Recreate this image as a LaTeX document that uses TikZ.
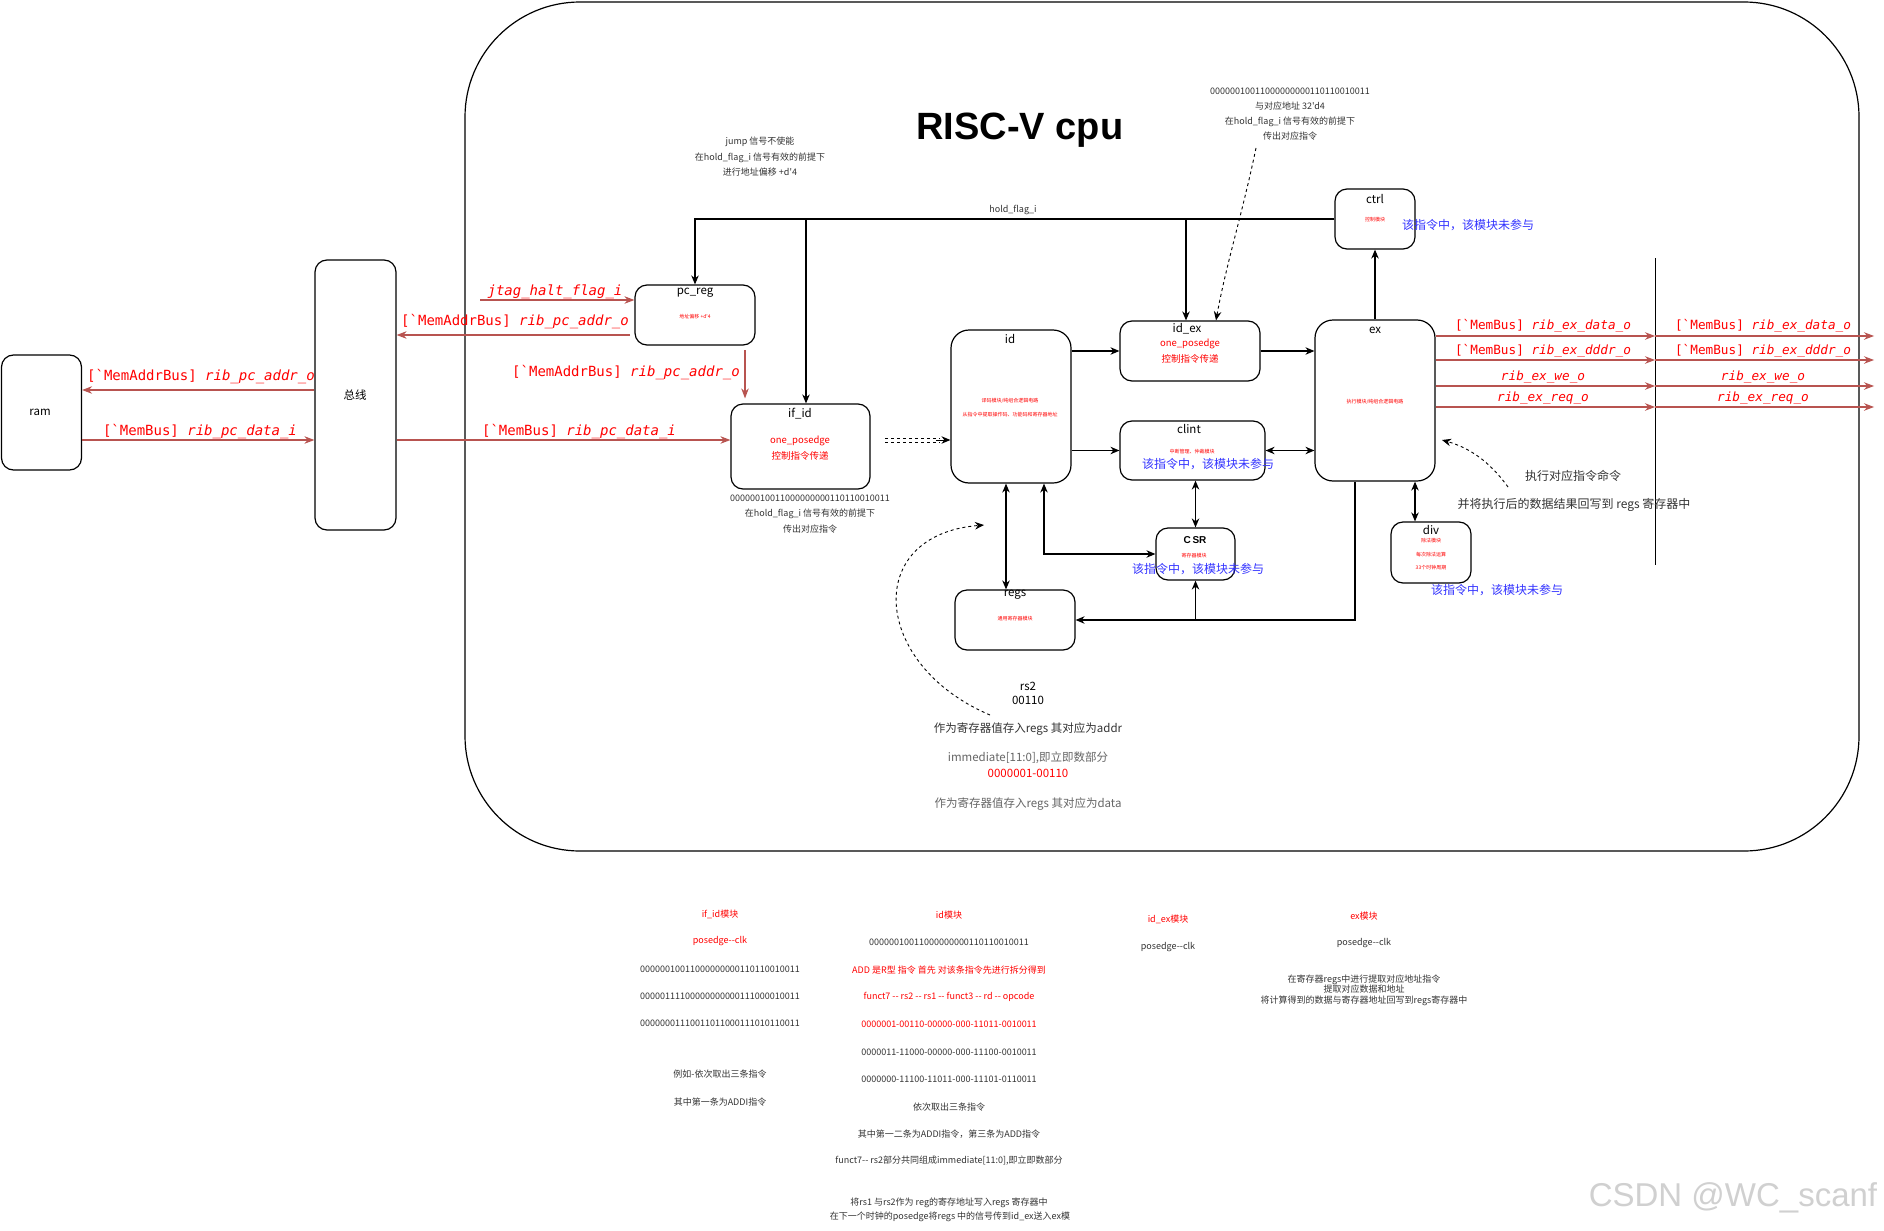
\documentclass[tikz,border=0pt]{standalone}
\usepackage{fontspec}
\usetikzlibrary{arrows.meta}
\newfontfamily\zh{Noto Sans CJK SC}
\newfontfamily\monof{DejaVu Sans Mono}
\newfontfamily\libf{Liberation Sans}
\definecolor{redline}{HTML}{B85450}
\definecolor{redtxt}{HTML}{FF0000}
\definecolor{bluetxt}{HTML}{3333FF}
\definecolor{darktxt}{HTML}{333333}
\definecolor{graytxt}{HTML}{666666}
\definecolor{wmark}{HTML}{D0D0D0}
\newcommand\fsz[2]{\fontsize{#1}{#2}\selectfont}
\newcommand\bq{\symbol{96}}
\begin{document}
\begin{tikzpicture}[x=1pt,y=-1pt,
  box/.style={draw=black,line width=1.2pt,rounded corners=12pt,inner sep=0pt},
  bigbox/.style={draw=black,line width=1.2pt,rounded corners=18pt,inner sep=0pt},
  tip/.style={-{Stealth[length=9pt,width=7.5pt]}},
  arr/.style={line width=1.2pt,-{Stealth[length=9pt,width=7.5pt]}},
  darr/.style={line width=1.2pt,{Stealth[length=9pt,width=7.5pt]}-{Stealth[length=9pt,width=7.5pt]}},
  rarr/.style={line width=1.1pt,draw=redline,-{Stealth[length=10pt,width=7.5pt]}},
  ttl/.style={inner sep=0pt,font=\zh\fsz{11.5}{13},text=black},
  sm/.style={inner sep=0pt,font=\zh\fsz{9}{15.5},text=darktxt,align=center},
  tiny/.style={inner sep=0pt,font=\zh\fsz{5}{6},text=redtxt},
  redm/.style={inner sep=0pt,font=\zh\fsz{9.5}{11},text=redtxt},
  blu/.style={inner sep=0pt,font=\zh\fsz{12}{14},text=bluetxt},
  sig/.style={inner sep=0pt,font=\monof\fsz{14}{16},text=redtxt},
  sigs/.style={inner sep=0pt,font=\monof\fsz{12.7}{15},text=redtxt},
  mid/.style={inner sep=0pt,font=\zh\fsz{11.5}{13}},
  bot/.style={inner sep=0pt,font=\zh\fsz{9}{11},text=darktxt},
  botr/.style={bot,text=redtxt},
  dsh/.style={dashed,line width=0.9pt,-{Stealth[length=9pt,width=7.5pt]}}
]
\useasboundingbox (0,0) rectangle (1884,1231);
\fill[white] (0,0) rectangle (1884,1231);

% container
\node[draw=black,line width=1.2pt,rounded corners=115pt,minimum width=1394,minimum height=849,inner sep=0pt] (cpu) at (1162,426.5) {};
\node[font=\libf\bfseries\fsz{38}{44},inner sep=0pt] (title) at (1020,130) {RISC-V cpu};

% boxes
\node[box,minimum width=80,minimum height=115] (ram) at (41.5,412.5) {};
\node[box,minimum width=81,minimum height=270] (bus) at (355.5,395) {};
\node[box,minimum width=120,minimum height=60] (pcreg) at (695,315) {};
\node[box,minimum width=139,minimum height=85] (ifid) at (800.5,446.5) {};
\node[bigbox,minimum width=120,minimum height=153] (id) at (1011,406.5) {};
\node[box,minimum width=140,minimum height=60] (idex) at (1190,351) {};
\node[bigbox,minimum width=120,minimum height=161] (ex) at (1375,400.5) {};
\node[box,minimum width=80,minimum height=60] (ctrl) at (1375,219) {};
\node[box,minimum width=145,minimum height=59] (clint) at (1192.5,450.5) {};
\node[box,minimum width=79,minimum height=52] (csr) at (1195.5,554) {};
\node[box,minimum width=120,minimum height=60] (regs) at (1015,620) {};
\node[box,minimum width=80,minimum height=61] (div) at (1431,552.5) {};

% box titles
\node[ttl] (tram) at (40,412) {ram};
\node[ttl] (tbus) at (355,395) {总线};
\node[ttl] (tpc) at (695,293) {pc\_reg};
\node[ttl] (tifid) at (800,414) {if\_id};
\node[ttl] (tid) at (1010,339) {id};
\node[ttl] (tidex) at (1187,329) {id\_ex};
\node[ttl] (tex) at (1375,330) {ex};
\node[ttl] (tctrl) at (1375,199) {ctrl};
\node[ttl] (tclint) at (1189,429) {clint};
\node[inner sep=0pt,font=\libf\bfseries\fsz{10}{12}] (tcsr) at (1195,540) {C\,SR};
\node[ttl] (tregs) at (1015,595) {regs};
\node[ttl] (tdiv) at (1431,530) {div};

% small red texts inside boxes
\node[tiny] (spc) at (695,317) {地址偏移 +d'4};
\node[redm] (sif1) at (800,441) {one\_posedge};
\node[redm] (sif2) at (800,456) {控制指令传递};
\node[tiny] (sid1) at (1010,401) {译码模块/纯组合逻辑电路};
\node[tiny] (sid2) at (1010,415) {从指令中提取操作码、功能码和寄存器地址};
\node[redm] (sie1) at (1190,344) {one\_posedge};
\node[redm] (sie2) at (1190,359) {控制指令传递};
\node[tiny] (sex) at (1375,402) {执行模块/纯组合逻辑电路};
\node[tiny] (sctrl) at (1375,220) {控制模块};
\node[tiny] (sclint) at (1192,452) {中断管理、仲裁模块};
\node[tiny] (scsr) at (1194,556) {寄存器模块};
\node[tiny] (sregs) at (1015,619) {通用寄存器模块};
\node[tiny] (sdiv1) at (1431,541) {除法模块};
\node[tiny] (sdiv2) at (1431,555) {每次除法运算};
\node[tiny] (sdiv3) at (1431,568) {33个时钟周期};

% black connectors
\draw[arr] (ctrl.west) -| (pcreg.north);
\coordinate (h1) at (806,219);
\coordinate (h2) at (1186,219);
\draw[arr] (h1) -- (h1 |- ifid.north);
\draw[arr] (h2) -- (h2 |- idex.north);
\draw[arr] (ex.north) -- (ctrl.south);
\draw[arr] (id.east |- idex.west) -- (idex.west);
\draw[arr] (idex.east) -- (ex.west |- idex.east);
\draw[arr] (id.east |- clint.west) -- (clint.west);
\draw[darr] (clint.east) -- (ex.west |- clint.east);
\draw[darr] (csr.north |- clint.south) -- (csr.north);
\coordinate (ir) at (1006,0);
\draw[darr] (ir |- id.south) -- (ir |- regs.north);
\coordinate (ic) at (1044,0);
\draw[darr] (ic |- id.south) |- (csr.west);
\coordinate (er) at (1355,0);
\draw[arr] (er |- ex.south) |- (regs.east);
\draw[arr] (csr.south |- regs.east) -- (csr.south);
\coordinate (ed) at (1415,0);
\draw[darr] (ed |- ex.south) -- (ed |- div.north);
\node[sm] (thold) at (1013,210) {hold\_flag\_i};

% dashed if_id -> id
\coordinate (dd1) at (885,438);
\coordinate (dd2) at (885,442);
\coordinate (dd3) at (940,440);
\draw[dashed,line width=1pt] (dd1) -- (dd1 -| dd3);
\draw[dashed,line width=1pt] (dd2) -- (dd2 -| dd3);
\draw[line width=1pt,-{Stealth[length=9pt,width=7.5pt]}] ([xshift=-4pt]dd3) -- (id.west |- dd3);

% red connectors left
\coordinate (ya) at (0,390);
\coordinate (yb) at (0,440);
\coordinate (pcl) at (630,335);
\coordinate (jt) at (480,300);
\coordinate (pd) at (745,350);
\draw[rarr] (bus.west |- ya) -- (ram.east |- ya);
\draw[rarr] (ram.east |- yb) -- (bus.west |- yb);
\draw[rarr] (bus.east |- yb) -- (ifid.west |- yb);
\draw[rarr] (pcl) -- (bus.east |- pcl);
\draw[rarr] (jt) -- (pcreg.west |- jt);
\draw[rarr,shorten >=5pt] (pd) -- (pd |- ifid.north);

\node[sig] (l1) at (201,377) {[\bq MemAddrBus] \itshape rib\_pc\_addr\_o};
\node[sig] (l2) at (200,432) {[\bq MemBus] \itshape rib\_pc\_data\_i};
\node[sig] (l3) at (555,292) {\itshape jtag\_halt\_flag\_i};
\node[sig] (l4) at (515,322) {[\bq MemAddrBus] \itshape rib\_pc\_addr\_o};
\node[sig] (l5) at (626,373) {[\bq MemAddrBus] \itshape rib\_pc\_addr\_o};
\node[sig] (l6) at (579,432) {[\bq MemBus] \itshape rib\_pc\_data\_i};

% red connectors right of ex
\coordinate (vx) at (1655,0);
\coordinate (rx) at (1874,0);
\coordinate (vt) at (1655,258);
\coordinate (vb) at (1655,565);
\draw[line width=1pt] (vt) -- (vb);
\foreach \yy in {336,360,386,407}{
  \coordinate (e) at (0,\yy);
  \draw[rarr] (ex.east |- e) -- (vx |- e);
  \draw[rarr] (vx |- e) -- (rx |- e);
}
\foreach \xx/\nm in {1543/a,1763/b}{
  \node[sigs] (r1\nm) at (\xx,326) {[\bq MemBus] \itshape rib\_ex\_data\_o};
  \node[sigs] (r2\nm) at (\xx,351) {[\bq MemBus] \itshape rib\_ex\_dddr\_o};
  \node[sigs] (r3\nm) at (\xx,377) {\itshape rib\_ex\_we\_o};
  \node[sigs] (r4\nm) at (\xx,398) {\itshape rib\_ex\_req\_o};
}

% annotations
\node[sm] (jmp) at (760,157) {jump 信号不使能\\在hold\_flag\_i 信号有效的前提下\\进行地址偏移 +d'4};
\node[sm,font=\zh\fsz{9}{15}] (topr) at (1290,114.5) {00000010011000000000110110010011\\与对应地址 32'd4\\在hold\_flag\_i 信号有效的前提下\\传出对应指令};
\node[sm] (ifb) at (810,514) {00000010011000000000110110010011\\在hold\_flag\_i 信号有效的前提下\\传出对应指令};
\coordinate (da) at (1256,148);
\draw[dsh] (da) .. controls (1242,215) and (1226,265) .. ([xshift=26pt]idex.north);

\node[blu] (bctrl) at (1468,225) {该指令中，该模块未参与};
\node[blu] (bclint) at (1208,464) {该指令中，该模块未参与};
\node[blu] (bcsr) at (1198,569) {该指令中，该模块未参与};
\node[blu] (bdiv) at (1497,590) {该指令中，该模块未参与};

\node[inner sep=0pt,font=\zh\fsz{12}{14},text=darktxt] (exa) at (1573,476) {执行对应指令命令};
\node[inner sep=0pt,font=\zh\fsz{12}{14},text=darktxt] (exb) at (1574,505) {并将执行后的数据结果回写到 regs 寄存器中};
\coordinate (xa) at (1508,487);
\coordinate (xb) at (1442,440);
\draw[dsh] (xa) .. controls (1490,462) and (1470,448) .. (xb);

\node[mid,text=black] (rs2a) at (1028,686) {rs2};
\node[mid,text=black] (rs2b) at (1028,700) {00110};
\node[mid,text=darktxt] (m1) at (1028,729) {作为寄存器值存入regs 其对应为addr};
\node[mid,text=graytxt] (m2) at (1028,758) {immediate[11:0],即立即数部分};
\node[mid,text=redtxt] (m3) at (1028,773) {0000001-00110};
\node[mid,text=graytxt] (m4) at (1028,804) {作为寄存器值存入regs 其对应为data};
\coordinate (ra) at (990,715);
\coordinate (rb) at (984,525);
\draw[dsh] (ra) .. controls (872,665) and (862,535) .. (rb);

% bottom notes: if_id column
\node[botr] (a1) at (720,914) {if\_id模块};
\node[botr] (a2) at (720,941) {posedge--clk};
\node[bot] (a3) at (720,969) {00000010011000000000110110010011};
\node[bot] (a4) at (720,996) {00000111100000000000111000010011};
\node[bot] (a5) at (720,1023) {00000001110011011000111010110011};
\node[bot] (a6) at (720,1074) {例如-依次取出三条指令};
\node[bot] (a7) at (720,1102) {其中第一条为ADDI指令};
% id column
\node[botr] (c1) at (949,915) {id模块};
\node[bot] (c2) at (949,942) {00000010011000000000110110010011};
\node[botr] (c3) at (949,970) {ADD 是R型 指令 首先 对该条指令先进行拆分得到};
\node[botr] (c4) at (949,997) {funct7 -- rs2 -- rs1 -- funct3 -- rd -- opcode};
\node[botr] (c5) at (949,1024) {0000001-00110-00000-000-11011-0010011};
\node[bot] (c6) at (949,1052) {0000011-11000-00000-000-11100-0010011};
\node[bot] (c7) at (949,1079) {0000000-11100-11011-000-11101-0110011};
\node[bot] (c8) at (949,1107) {依次取出三条指令};
\node[bot] (c9) at (949,1134) {其中第一二条为ADDI指令，第三条为ADD指令};
\node[bot] (c10) at (949,1161) {funct7-- rs2部分共同组成immediate[11:0],即立即数部分};
\node[bot] (c11) at (949,1203) {将rs1 与rs2作为 reg的寄存地址写入regs 寄存器中};
\node[bot] (c12) at (950,1217) {在下一个时钟的posedge将regs 中的信号传到id\_ex送入ex模};
% id_ex column
\node[botr] (d1) at (1168,919) {id\_ex模块};
\node[bot] (d2) at (1168,947) {posedge--clk};
% ex column
\node[botr] (f1) at (1364,916) {ex模块};
\node[bot] (f2) at (1364,943) {posedge--clk};
\node[bot,align=center,font=\zh\fsz{9}{10.5}] (f3) at (1364,990) {在寄存器regs中进行提取对应地址指令\\提取对应数据和地址\\将计算得到的数据与寄存器地址回写到regs寄存器中};

\node[inner sep=0pt,font=\libf\fsz{33}{36},text=wmark] (wm) at (1733,1198) {CSDN @WC\_scanf};
\end{tikzpicture}
\end{document}
